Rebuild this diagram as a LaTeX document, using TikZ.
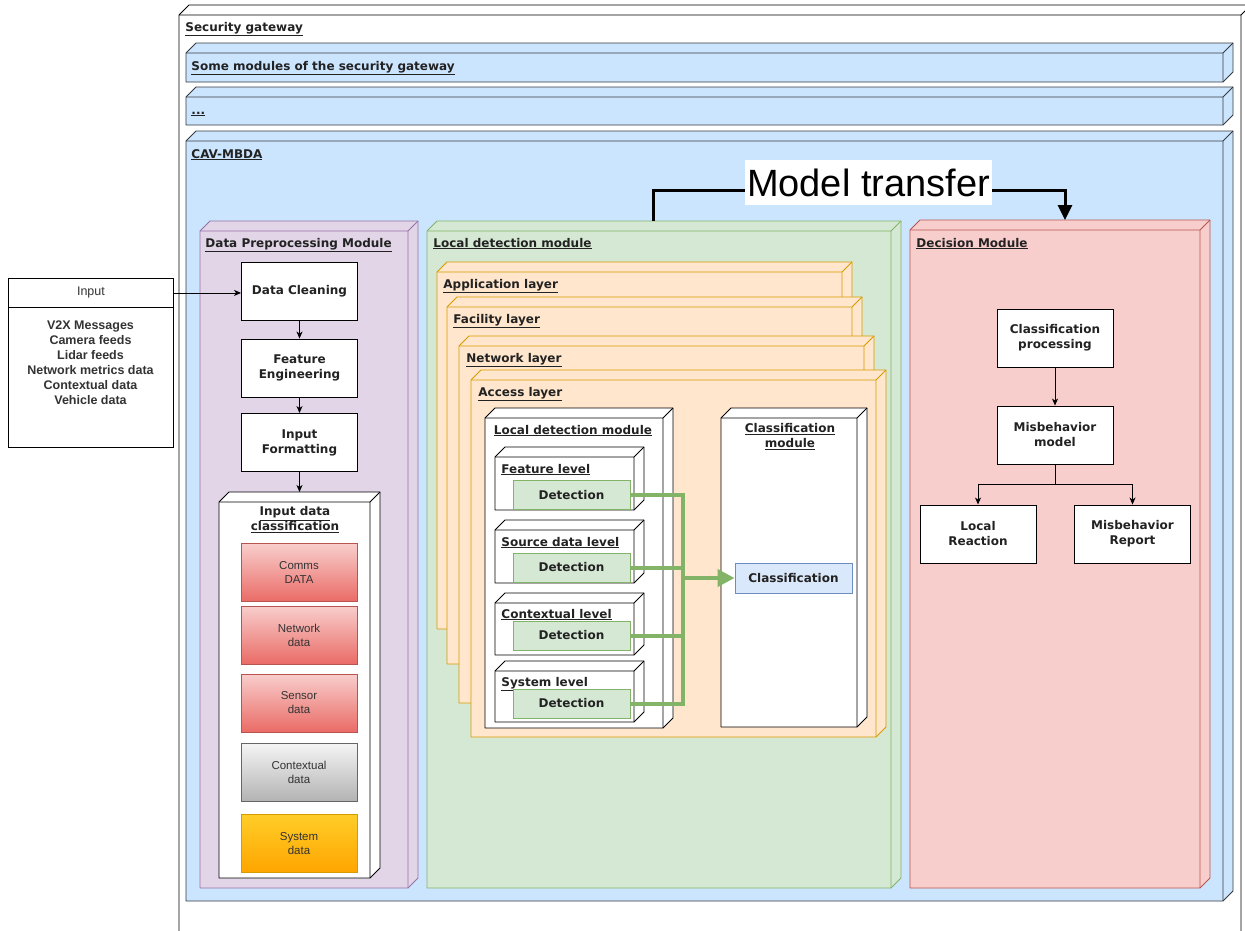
\documentclass[tikz,border=0pt]{standalone}
\usepackage{fontspec}
\setmainfont{DejaVu Sans}
\newfontfamily\hv{Liberation Sans}
\usetikzlibrary{calc,arrows.meta}
\definecolor{sgline}{HTML}{333333}
\definecolor{bluef}{HTML}{CCE5FF}
\definecolor{bluel}{HTML}{36393D}
\definecolor{purf}{HTML}{E1D5E7}
\definecolor{purl}{HTML}{9673A6}
\definecolor{grnf}{HTML}{D5E8D4}
\definecolor{grnl}{HTML}{82B366}
\definecolor{orf}{HTML}{FFE6CC}
\definecolor{orl}{HTML}{D79B00}
\definecolor{redf}{HTML}{F8CECC}
\definecolor{redl}{HTML}{B85450}
\definecolor{redg}{HTML}{EA6B66}
\definecolor{grayt}{HTML}{F5F5F5}
\definecolor{grayb}{HTML}{B3B3B3}
\definecolor{grayl}{HTML}{666666}
\definecolor{yelt}{HTML}{FFCD28}
\definecolor{yelb}{HTML}{FFA500}
\definecolor{clsf}{HTML}{DAE8FC}
\definecolor{clsl}{HTML}{6C8EBF}
\definecolor{txt}{HTML}{222222}
\definecolor{dtxt}{HTML}{333333}
\newcommand\cubebox[5]{%
  \coordinate (#1-nw) at (#2);
  \coordinate (#1-se) at (#3);
  \filldraw[fill=#4,draw=#5,line join=round] (#1-nw |- #1-se) -- (#1-nw) -- ($(#1-nw)+(10,-10)$) -- ($(#1-se |- #1-nw)+(10,-10)$) -- ($(#1-se)+(10,-10)$) -- (#1-se) -- cycle;
  \draw[#5,line join=round] (#1-nw) -- (#1-se |- #1-nw) -- ($(#1-se |- #1-nw)+(10,-10)$) (#1-se |- #1-nw) -- (#1-se);
}
\tikzset{
  lbl/.style={font=\bfseries\fontsize{12}{15}\selectfont, text=txt, inner sep=0, anchor=base west},
  clbl/.style={font=\bfseries\fontsize{12}{15}\selectfont, text=txt, inner sep=0, align=center},
  wbox/.style={draw=black, fill=white, inner sep=0, minimum width=116pt, minimum height=58pt, align=center, text=txt, font=\bfseries\fontsize{12}{15}\selectfont},
  dbox/.style={inner sep=0, minimum width=116pt, minimum height=58pt, align=center, text=dtxt, font=\hv\fontsize{11.5}{14}\selectfont},
  detbox/.style={draw=grnl, fill=grnf, inner sep=0, minimum width=117pt, minimum height=29pt, text=txt, font=\bfseries\fontsize{12}{15}\selectfont},
  barrow/.style={draw=black, line width=0.9pt, -{Stealth[length=7pt,width=6pt,inset=2pt]}},
  gline/.style={draw=grnl, line width=4pt},
  bline/.style={draw=black, line width=3pt},
}
\begin{document}
\begin{tikzpicture}[x=1pt,y=-1pt,line width=0.9pt]
\useasboundingbox (0,0) rectangle (1245,930);
\clip (0,0) rectangle (1245,930);
\fill[white] (0,0) rectangle (1245,930);
% security gateway
\cubebox{sg}{179,15}{1241,1000}{white}{black}
\node[lbl] (sgl) at (185,31) {\underline{Security gateway}};
\cubebox{b1}{186,53}{1223,82}{bluef}{bluel}
\node[lbl] (b1l) at (191,70) {\underline{Some modules of the security gateway}};
\cubebox{b2}{186,97}{1223,125}{bluef}{bluel}
\node[lbl] (b2l) at (191,114) {\underline{...}};
\cubebox{cav}{186,141}{1223,901}{bluef}{bluel}
\node[lbl] (cavl) at (191,158) {\underline{CAV-MBDA}};
% Data preprocessing
\cubebox{dp}{200,231}{408,888}{purf}{purl}
\node[lbl] (dpl) at (205,247) {\underline{Data Preprocessing Module}};
\node[wbox] (dc) at (299.5,291) {Data Cleaning};
\node[wbox] (fe) at (299.5,368) {Feature\\Engineering};
\node[wbox] (if) at (299.5,442.5) {Input\\Formatting};
\draw[barrow] (dc.south) -- (fe.north);
\draw[barrow] (fe.south) -- (if.north);
\cubebox{idc}{219,502}{370,878}{white}{black}
\coordinate (idctop) at (299.5,492);
\draw[barrow] (if.south) -- (idctop);
\node[clbl] (idcl) at (295,520) {\underline{Input data}\\\underline{classification}};
\node[dbox, draw=redl, top color=redf, bottom color=redg] (comms) at (299,572.5) {Comms\\DATA};
\node[dbox, draw=redl, top color=redf, bottom color=redg] (netd) at (299,635) {Network\\data};
\node[dbox, draw=redl, top color=redf, bottom color=redg] (send) at (299,703) {Sensor\\data};
\node[dbox, draw=grayl, top color=grayt, bottom color=grayb] (ctxd) at (299,772) {Contextual\\data};
\node[dbox, draw=orl, top color=yelt, bottom color=yelb] (sysd) at (299,843.5) {System\\data};
% Input
\node[draw=black, fill=white, anchor=north west, inner sep=0, minimum width=165pt, minimum height=29pt, font=\hv\fontsize{12.5}{15}\selectfont, text=dtxt] (inph) at (8,278) {Input};
\node[draw=black, fill=white, anchor=north west, inner sep=0, minimum width=165pt, minimum height=140pt] (inpb) at (8,307) {};
\node[align=center, inner sep=0, font=\hv\bfseries\fontsize{12.5}{15}\selectfont, text=dtxt] (inpt) at (90.5,362.5) {V2X Messages\\Camera feeds\\Lidar feeds\\Network metrics data\\Contextual data\\Vehicle data};
\draw[barrow] (inph.east) -- (inph.east -| dc.west);
% Local detection module
\cubebox{ld}{427,231}{891,888}{grnf}{grnl}
\node[lbl] (ldl) at (433,247) {\underline{Local detection module}};
\cubebox{app}{437,272}{842,629}{orf}{orl}
\node[lbl] (appl) at (443,288) {\underline{Application layer}};
\cubebox{fac}{447,307}{852,664}{orf}{orl}
\node[lbl] (facl) at (453,323) {\underline{Facility layer}};
\cubebox{net}{459,346}{864,703}{orf}{orl}
\node[lbl] (netl) at (466,362) {\underline{Network layer}};
\cubebox{acc}{471,380}{876,737}{orf}{orl}
\node[lbl] (accl) at (478,396) {\underline{Access layer}};
\cubebox{ild}{485,418}{663,728}{white}{black}
\node[lbl, anchor=base] (ildl) at (573,434) {\underline{Local detection module}};
\cubebox{fl}{495,457}{634,510}{white}{black}
\node[lbl] (fll) at (501,473) {\underline{Feature level}};
\node[detbox] (d1) at (571.5,495) {Detection};
\cubebox{sl}{495,530}{634,583}{white}{black}
\node[lbl] (sll) at (501,546) {\underline{Source data level}};
\node[detbox] (d2) at (571.5,567.5) {Detection};
\cubebox{cl}{495,603}{634,655}{white}{black}
\node[lbl] (cll) at (501,618) {\underline{Contextual level}};
\node[detbox] (d3) at (571.5,635.5) {Detection};
\cubebox{syl}{495,671}{634,722}{white}{black}
\node[lbl] (syll) at (501,686) {\underline{System level}};
\node[detbox] (d4) at (571.5,703.5) {Detection};
\cubebox{cm}{721,418}{857,727}{white}{black}
\node[clbl] (cml) at (790,437) {\underline{Classification}\\\underline{module}};
\node[detbox, draw=clsl, fill=clsf, minimum height=30pt] (cls) at (793.5,578) {Classification};
\coordinate (jn) at (683,578);
\draw[gline] (d1.east) -| (jn);
\draw[gline] (d2.east) -| (jn);
\draw[gline] (d3.east) -| (jn);
\draw[gline] (d4.east) -| (jn);
\draw[gline, -{Triangle[length=17pt,width=17pt]}] (jn) -- (cls.west);
% Decision module
\cubebox{dm}{910,230}{1200,888}{redf}{redl}
\node[lbl] (dml) at (916,247) {\underline{Decision Module}};
\node[wbox] (cp) at (1055,338) {Classification\\processing};
\node[wbox] (mm) at (1055,435) {Misbehavior\\model};
\node[wbox] (lr) at (978,534) {Local\\Reaction};
\node[wbox] (mr) at (1132.5,534) {Misbehavior\\Report};
\coordinate (br) at (1055,484);
\draw[barrow] (cp.south) -- (mm.north);
\draw[line width=0.9pt] (mm.south) -- (br);
\draw[barrow] (br) -| (lr.north);
\draw[barrow] (br) -| (mr.north);
% Model transfer
\coordinate (mtA) at (653,221);
\coordinate (mtL) at (746,190);
\coordinate (mtR) at (991,190);
\coordinate (mtB) at (1065,220);
\draw[bline] (mtA) |- (mtL);
\draw[bline, -{Triangle[length=15pt,width=14pt]}] (mtR) -| (mtB);
\node[fill=white, inner sep=0, minimum width=247pt, minimum height=45pt, font=\hv\fontsize{38}{40}\selectfont, text=black] (mt) at (868.5,182.5) {Model transfer};
\end{tikzpicture}
\end{document}
